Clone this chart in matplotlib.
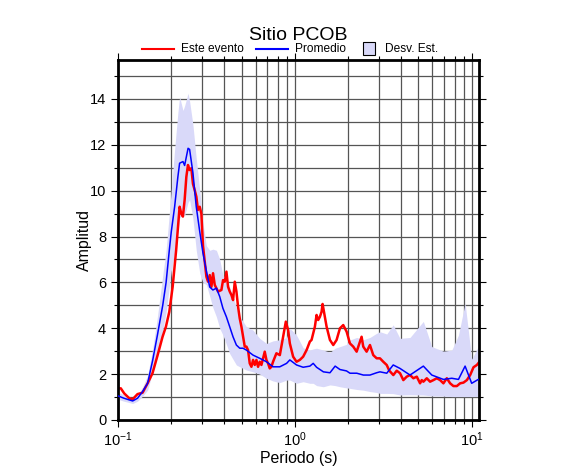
import matplotlib
matplotlib.use('Agg')
import matplotlib.pyplot as plt
from matplotlib.lines import Line2D
from matplotlib.patches import Rectangle
from matplotlib.ticker import LogLocator, MultipleLocator

plt.rcParams['font.family'] = ['Liberation Sans', 'DejaVu Sans']
plt.rcParams['mathtext.fontset'] = 'custom'
plt.rcParams['mathtext.rm'] = 'Liberation Sans'

# Promedio (mean) and its +/- std band
period_mean = [0.100, 0.108, 0.121, 0.129, 0.138, 0.147, 0.157, 0.167, 0.179, 0.187,
               0.195, 0.200, 0.209, 0.218, 0.223, 0.233, 0.238, 0.249, 0.254, 0.265,
               0.277, 0.290, 0.302, 0.316, 0.330, 0.344, 0.360, 0.376, 0.392, 0.410,
               0.428, 0.447, 0.467, 0.488, 0.509, 0.532, 0.580, 0.633, 0.691, 0.753,
               0.822, 0.898, 0.937, 1.022, 1.114, 1.216, 1.270, 1.327, 1.45, 1.58,
               1.69, 1.80, 1.96, 2.05, 2.24, 2.44, 2.66, 2.90, 3.03, 3.31,
               3.60, 3.93, 4.48, 5.33, 5.95, 6.92, 7.72, 8.42, 9.18, 10.0,
               10.9]
amp_mean = [1.05, 0.95, 0.83, 0.95, 1.25, 1.6, 2.6, 3.7, 5.0, 6.0,
            7.4, 8.2, 9.3, 10.6, 11.2, 11.27, 11.1, 11.85, 11.8, 10.8,
            9.3, 8.2, 7.3, 6.5, 5.8, 5.67, 5.75, 5.38, 4.87, 4.5,
            4.07, 3.63, 3.27, 3.13, 3.13, 3.05, 2.83, 2.69, 2.54, 2.32,
            2.32, 2.47, 2.62, 2.4, 2.3, 2.35, 2.47, 2.3, 2.1, 2.06,
            2.35, 2.2, 2.14, 2.04, 2.04, 1.96, 1.96, 2.06, 2.1, 2.04,
            2.4, 2.25, 1.96, 2.35, 1.96, 1.77, 1.82, 1.77, 2.35, 1.6,
            1.77]
amp_upper = [1.2, 1.1, 0.95, 1.1, 1.45, 1.95, 3.1, 4.5, 6.3, 7.4,
             9.0, 10.0, 11.8, 13.4, 14.1, 13.5, 13.7, 14.25, 13.9, 12.9,
             11.4, 10.0, 8.6, 7.6, 7.4, 7.45, 7.4, 7.0, 6.3, 6.2,
             5.8, 5.38, 4.9, 4.5, 4.3, 4.07, 3.92, 3.56, 3.34, 3.45,
             3.5, 3.6, 4.0, 3.7, 3.15, 3.05, 3.1, 3.13, 3.05, 2.95,
             3.13, 3.2, 3.3, 3.49, 3.6, 3.5, 3.6, 3.78, 3.85, 3.75,
             4.15, 3.56, 3.6, 4.3, 3.2, 3.0, 3.05, 3.7, 5.1, 2.65,
             3.2]
amp_lower = [0.9, 0.82, 0.72, 0.82, 1.05, 1.3, 2.1, 3.0, 3.9, 4.7,
             5.8, 6.5, 7.3, 8.2, 8.8, 9.0, 8.9, 9.5, 9.6, 8.8,
             7.4, 6.4, 6.0, 5.9, 5.4, 4.9, 4.5, 4.0, 3.7, 3.3,
             2.9, 2.65, 2.4, 2.32, 2.25, 2.18, 2.1, 2.0, 1.82, 1.7,
             1.63, 1.74, 1.74, 1.6, 1.67, 1.6, 1.6, 1.5, 1.45, 1.53,
             1.5, 1.45, 1.4, 1.38, 1.33, 1.3, 1.24, 1.2, 1.16, 1.16,
             1.15, 1.09, 1.1, 1.09, 1.05, 1.04, 1.02, 1.02, 1.02, 1.02,
             1.02]

# Este evento
period_event = [0.1000, 0.1037, 0.1084, 0.1157, 0.1208, 0.1289, 0.1377, 0.1470, 0.1567, 0.1675,
                0.1786, 0.1866, 0.1950, 0.2037, 0.2132, 0.2230, 0.2280, 0.2328, 0.2381, 0.2434,
                0.2486, 0.2541, 0.2598, 0.2653, 0.2713, 0.2773, 0.2832, 0.2897, 0.2961, 0.3024,
                0.3092, 0.3161, 0.3229, 0.3301, 0.3374, 0.3446, 0.3524, 0.3602, 0.3679, 0.3843,
                0.3926, 0.4014, 0.4103, 0.4191, 0.4284, 0.4379, 0.4473, 0.4573, 0.4674, 0.4774,
                0.4880, 0.4988, 0.5095, 0.5208, 0.5323, 0.5437, 0.5558, 0.5681, 0.5803, 0.5932,
                0.6063, 0.6193, 0.6331, 0.6471, 0.6610, 0.6757, 0.6906, 0.7054, 0.7211, 0.7370,
                0.7529, 0.7866, 0.8224, 0.8585, 0.8892, 0.9164, 0.9368, 0.978, 1.022, 1.067,
                1.114, 1.165, 1.216, 1.243, 1.298, 1.327, 1.355, 1.386, 1.416, 1.435,
                1.466, 1.512, 1.579, 1.649, 1.722, 1.799, 1.878, 1.963, 2.049, 2.139,
                2.236, 2.334, 2.385, 2.437, 2.546, 2.659, 2.776, 2.902, 3.029, 3.163,
                3.307, 3.422, 3.605, 3.768, 3.934, 4.107, 4.293, 4.482, 4.680, 4.892,
                5.107, 5.220, 5.332, 5.573, 5.818, 6.074, 6.349, 6.628, 6.920, 7.234,
                7.552, 7.885, 8.243, 8.606, 8.985, 9.392, 9.805, 10.24, 10.70, 11.07]
amp_event = [1.38, 1.38, 1.16, 0.95, 0.9, 1.13, 1.19, 1.6, 2.04, 2.83,
             3.63, 4.07, 4.72, 5.81, 7.41, 9.3, 9.0, 8.87, 9.6, 10.6,
             11.12, 10.9, 10.98, 10.3, 10.03, 9.74, 9.16, 9.3, 9.0, 7.6,
             6.9, 6.25, 6.03, 6.32, 5.81, 6.4, 5.89, 5.74, 5.6, 5.67,
             6.1, 6.03, 6.47, 5.81, 5.6, 5.45, 5.23, 6.03, 5.6, 4.94,
             4.43, 4.07, 3.63, 3.2, 3.2, 3.05, 2.47, 2.32, 2.62, 2.4,
             2.62, 2.32, 2.54, 2.4, 2.69, 2.98, 2.62, 2.47, 2.25, 2.32,
             2.54, 2.91, 2.83, 3.63, 4.29, 3.92, 3.34, 2.76, 2.54, 2.62,
             2.76, 3.05, 3.42, 3.49, 4.07, 4.58, 4.36, 4.5, 4.72, 5.06,
             4.65, 4.07, 3.49, 3.27, 3.49, 4.0, 4.14, 3.85, 3.34, 3.2,
             2.98, 3.42, 3.63, 3.2, 2.98, 3.27, 2.83, 2.69, 2.69, 2.54,
             2.4, 2.15, 1.96, 2.15, 2.04, 1.74, 1.89, 1.96, 1.82, 1.89,
             1.6, 1.74, 1.67, 1.82, 1.67, 1.74, 1.82, 1.74, 1.6, 1.82,
             1.6, 1.48, 1.48, 1.6, 1.63, 1.74, 1.96, 2.3, 2.4, 2.54]

band_color = '#d9d9f9'

fig = plt.figure(figsize=(5.86, 4.75), dpi=100)
ax = fig.add_axes([0.2014, 0.1158, 0.6160, 0.7579])

ax.fill_between(period_mean, amp_lower, amp_upper, color=band_color, lw=0, zorder=1)
ax.plot(period_mean, amp_mean, color='blue', lw=1.1, zorder=3)
ax.plot(period_event, amp_event, color='red', lw=1.8, zorder=2)

ax.set_xscale('log')
ax.set_xlim(0.1, 11.0)
ax.set_ylim(0, 15.7)
ax.xaxis.set_major_locator(LogLocator(base=10))
ax.xaxis.set_minor_locator(LogLocator(base=10, subs=range(2, 10)))
ax.yaxis.set_major_locator(MultipleLocator(2))
ax.yaxis.set_minor_locator(MultipleLocator(1))
ax.grid(True, which='both', color='#555555', lw=0.9, zorder=0)
ax.set_axisbelow(True)

ax.tick_params(which='both', direction='out', top=True, right=True, labelsize=10.5,
               color='black', width=0.8)
ax.tick_params(which='major', length=5)
ax.tick_params(which='minor', length=3)
ax.tick_params(axis='x', which='major', pad=2.5)
for s in ax.spines.values():
    s.set_linewidth(2)

ax.set_xlabel('Periodo (s)', fontsize=11.4, va='top')
ax.xaxis.set_label_coords(0.5, -0.086)
ax.set_ylabel('Amplitud', fontsize=11.4)
ax.yaxis.set_label_coords(-0.072, 0.5)
fig.text(0.5085, 0.9158, 'Sitio PCOB', ha='center', va='baseline', fontsize=14)

# legend row above the frame (figure pixel layout)
W, H = 586.0, 475.0
ly = 1 - 48.7 / H
fig.add_artist(Line2D([142 / W, 174 / W], [ly, ly], color='red', lw=1.5))
fig.text(181 / W, ly, 'Este evento', ha='left', va='center', fontsize=8.6)
fig.add_artist(Line2D([256 / W, 288 / W], [ly, ly], color='blue', lw=1.5))
fig.text(295 / W, ly, 'Promedio', ha='left', va='center', fontsize=8.6)
fig.add_artist(Rectangle((363 / W, 1 - 55 / H), 12 / W, 13 / H, facecolor=band_color,
                         edgecolor='black', lw=0.8, transform=fig.transFigure))
fig.text(385 / W, ly, 'Desv. Est.', ha='left', va='center', fontsize=8.6)

plt.savefig('out.png', dpi=100)
